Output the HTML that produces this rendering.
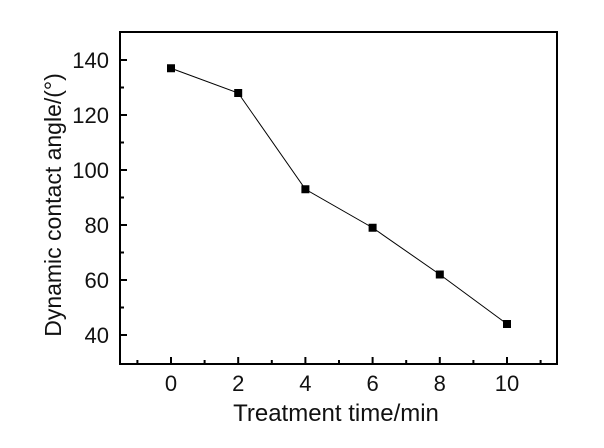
<!DOCTYPE html>
<html><head><meta charset="utf-8"><style>
html,body{margin:0;padding:0;background:#fff;}
svg{display:block;font-family:"Liberation Sans",Arial,sans-serif;}
</style></head><body>
<svg width="604" height="448" viewBox="0 0 604 448" xmlns="http://www.w3.org/2000/svg">
<rect width="604" height="448" fill="#fff"/>
<rect x="120" y="32" width="437" height="332" fill="none" stroke="#000" stroke-width="2"/>
<g stroke="#000" stroke-width="2">
<line x1="171" y1="364" x2="171" y2="357"/>
<line x1="238.2" y1="364" x2="238.2" y2="357"/>
<line x1="305.4" y1="364" x2="305.4" y2="357"/>
<line x1="372.6" y1="364" x2="372.6" y2="357"/>
<line x1="439.8" y1="364" x2="439.8" y2="357"/>
<line x1="507" y1="364" x2="507" y2="357"/>
<line x1="137.4" y1="364" x2="137.4" y2="360"/>
<line x1="204.6" y1="364" x2="204.6" y2="360"/>
<line x1="271.8" y1="364" x2="271.8" y2="360"/>
<line x1="339" y1="364" x2="339" y2="360"/>
<line x1="406.2" y1="364" x2="406.2" y2="360"/>
<line x1="473.4" y1="364" x2="473.4" y2="360"/>
<line x1="540.6" y1="364" x2="540.6" y2="360"/>
<line x1="120" y1="60" x2="127" y2="60"/>
<line x1="120" y1="115" x2="127" y2="115"/>
<line x1="120" y1="170" x2="127" y2="170"/>
<line x1="120" y1="225" x2="127" y2="225"/>
<line x1="120" y1="280" x2="127" y2="280"/>
<line x1="120" y1="335" x2="127" y2="335"/>
<line x1="120" y1="87.5" x2="124" y2="87.5"/>
<line x1="120" y1="142.5" x2="124" y2="142.5"/>
<line x1="120" y1="197.5" x2="124" y2="197.5"/>
<line x1="120" y1="252.5" x2="124" y2="252.5"/>
<line x1="120" y1="307.5" x2="124" y2="307.5"/>
</g>
<polyline fill="none" stroke="#000" stroke-width="1" points="171,68.25 238.2,93 305.4,189.25 372.6,227.75 439.8,274.5 507,324"/>
<g fill="#000">
<rect x="167" y="64.25" width="8" height="8"/>
<rect x="234.2" y="89" width="8" height="8"/>
<rect x="301.4" y="185.25" width="8" height="8"/>
<rect x="368.6" y="223.75" width="8" height="8"/>
<rect x="435.8" y="270.5" width="8" height="8"/>
<rect x="503" y="320" width="8" height="8"/>
</g>
<g font-size="22" fill="#111" text-anchor="end">
<text x="109" y="68">140</text>
<text x="109" y="123">120</text>
<text x="109" y="178">100</text>
<text x="109" y="233">80</text>
<text x="109" y="288">60</text>
<text x="109" y="343">40</text>
</g>
<g font-size="22" fill="#111" text-anchor="middle">
<text x="171" y="391">0</text>
<text x="238.2" y="391">2</text>
<text x="305.4" y="391">4</text>
<text x="372.6" y="391">6</text>
<text x="439.8" y="391">8</text>
<text x="507" y="391">10</text>
</g>
<text x="336" y="421" font-size="24" fill="#111" text-anchor="middle">Treatment time/min</text>
<text transform="translate(61,205) rotate(-90)" font-size="23" fill="#111" text-anchor="middle">Dynamic contact angle/(°)</text>
</svg>
</body></html>
